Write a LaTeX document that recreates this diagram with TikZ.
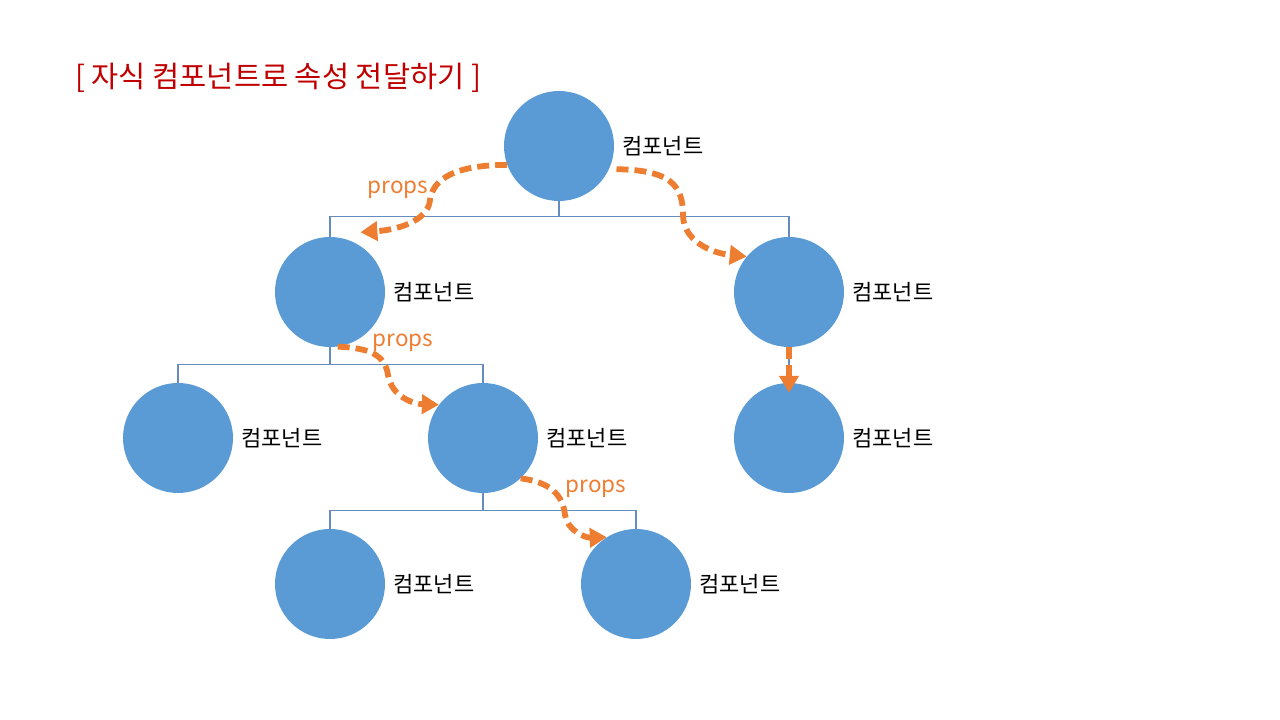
\documentclass[tikz,border=0pt]{standalone}
\usepackage{fontspec}
\newfontfamily\kr{Noto Sans CJK KR}
\usetikzlibrary{arrows.meta,calc}
\definecolor{circblue}{RGB}{91,155,213}
\definecolor{propor}{RGB}{237,125,49}
\definecolor{treeline}{RGB}{100,140,190}
\definecolor{titlered}{RGB}{192,0,0}
\tikzset{
  comp/.style={circle,fill=circblue,minimum size=110pt,inner sep=0pt},
  clabel/.style={anchor=west,inner sep=0pt,font=\kr\fontsize{22}{26}\selectfont,text=black},
  tree/.style={draw=treeline,line width=1.1pt},
  pass/.style={draw=propor,line width=5.8pt,dash pattern=on 12pt off 6pt,-{Triangle[length=17pt,width=19pt]}},
  plabel/.style={inner sep=0pt,font=\kr\fontsize{22.5}{26}\selectfont,text=propor},
}
\begin{document}
\begin{tikzpicture}[x=1pt,y=1pt]
\useasboundingbox (0,0) rectangle (1280,720);
\node[anchor=west,inner sep=0pt,font=\kr\fontsize{29.5}{34}\selectfont,text=titlered] (title) at (75,642) {[ 자식 컴포넌트로 속성 전달하기 ]};

\node[comp] (root) at (559,574) {};
\node[comp] (a) at (330,428) {};
\node[comp] (b) at (789,428) {};
\node[comp] (aa) at (178,282) {};
\node[comp] (ab) at (483,282) {};
\node[comp] (ba) at (789,282) {};
\node[comp] (aba) at (330,136) {};
\node[comp] (abb) at (636,136) {};

\foreach \n in {root,a,b,aa,ab,ba,aba,abb}{
  \node[clabel] (l\n) at ($(\n.east)+(8,0)$) {컴포넌트};
}

% tree lines
\path[tree] (root.south) -- ++(0,-15) -| (a.north);
\path[tree] (root.south) -- ++(0,-15) -| (b.north);
\path[tree] (a.south) -- ++(0,-17) -| (aa.north);
\path[tree] (a.south) -- ++(0,-17) -| (ab.north);
\path[tree] (ab.south) -- ++(0,-17) -| (aba.north);
\path[tree] (ab.south) -- ++(0,-17) -| (abb.north);
\path[tree] (b.south) -- (ba.north);

% props arrows
\path[pass] (root.200) .. controls (445,555) and (432,535) .. (430,520)
   .. controls (428,498) and (395,490) .. ($(a.center)+(63:67)$);
\path[pass] ($(root.center)+(-22:62)$) .. controls (670,550) and (683,535) .. (683,505)
   .. controls (683,480) and (710,467) .. (b.140);
\path[pass] (a.-82) .. controls (370,372) and (385,365) .. (388,345)
   .. controls (392,322) and (415,316) .. (ab.143);
\path[pass] (ab.-47) .. controls (550,238) and (563,225) .. (565,205)
   .. controls (567,190) and (585,182) .. (abb.122);
\path[pass] (b.south) -- ($(ba.north)+(0,-10)$);

\node[plabel] (p1) at (398,530) {props};
\node[plabel] (p2) at (403,377) {props};
\node[plabel] (p3) at (596,231) {props};
\end{tikzpicture}
\end{document}
